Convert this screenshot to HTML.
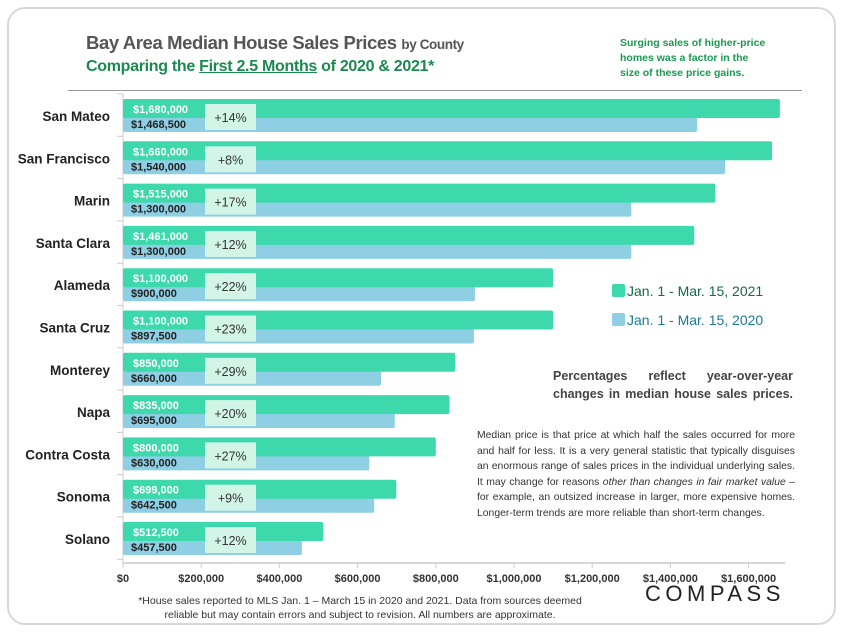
<!DOCTYPE html>
<html><head><meta charset="utf-8"><style>
body{margin:0;background:#fff;font-family:"Liberation Sans",sans-serif}
#card{position:absolute;left:7px;top:7px;width:829px;height:618px;border:2px solid #d8d8d8;border-radius:18px;box-sizing:border-box}
.t{position:absolute;white-space:nowrap}
</style></head><body>
<div id="card"></div>
<div class="t" style="left:86px;top:32px;font-size:18.5px;font-weight:bold;color:#555;letter-spacing:-0.4px">Bay Area Median House Sales Prices <span style="font-size:13.5px">by County</span></div>
<div class="t" style="left:86px;top:58px;font-size:16px;font-weight:bold;color:#1a8a4f;letter-spacing:-0.3px">Comparing the <u>First 2.5 Months</u> of 2020 &amp; 2021*</div>
<div class="t" style="left:620px;top:36px;font-size:10.5px;line-height:15px;font-weight:bold;color:#1a9a50">Surging sales of higher-price<br>homes was a factor in the<br>size of these price gains.</div>
<div style="position:absolute;left:68px;top:90px;width:734px;height:1px;background:#999"></div>
<svg id="chart" width="845" height="634" style="position:absolute;left:0;top:0"></svg>
<div class="t" style="left:612px;top:283px;font-size:14px;color:#16694a"><span style="display:inline-block;width:13px;height:13px;background:#3dd9ad;border-radius:2px;vertical-align:-1px;margin-right:2px"></span>Jan. 1 - Mar. 15, 2021</div>
<div class="t" style="left:612px;top:312px;font-size:14px;color:#1d7a95"><span style="display:inline-block;width:13px;height:13px;background:#8ecfe4;border-radius:2px;vertical-align:-1px;margin-right:2px"></span>Jan. 1 - Mar. 15, 2020</div>
<div class="t" style="left:553px;top:367px;width:240px;font-size:12.5px;line-height:18px;font-weight:bold;color:#444;white-space:normal;text-align:justify;text-align-last:justify">Percentages reflect year-over-year changes in median house sales prices.</div>
<div class="t" style="left:477px;top:428px;width:318px;font-size:10.4px;line-height:15.5px;color:#333;white-space:normal;text-align:justify">Median price is that price at which half the sales occurred for more and half for less. It is a very general statistic that typically disguises an enormous range of sales prices in the individual underlying sales. It may change for reasons <i>other than changes in fair market value</i> – for example, an outsized increase in larger, more expensive homes. Longer-term trends are more reliable than short-term changes.</div>
<div class="t" style="left:120px;top:594px;width:480px;font-size:10.5px;line-height:14px;color:#333;white-space:normal;text-align:center">*House sales reported to MLS Jan. 1 – March 15 in 2020 and 2021. Data from sources deemed reliable but may contain errors and subject to revision. All numbers are approximate.</div>
<div class="t" style="left:645px;top:581px;font-size:22px;letter-spacing:4.5px;color:#222">COMPASS</div>
<script>
const counties=["San Mateo","San Francisco","Marin","Santa Clara","Alameda","Santa Cruz","Monterey","Napa","Contra Costa","Sonoma","Solano"];
const v2021=[1680000,1660000,1515000,1461000,1100000,1100000,850000,835000,800000,699000,512500];
const v2020=[1468500,1540000,1300000,1300000,900000,897500,660000,695000,630000,642500,457500];
const pct=["+14%","+8%","+17%","+12%","+22%","+23%","+29%","+20%","+27%","+9%","+12%"];
const ticks=[0,200000,400000,600000,800000,1000000,1200000,1400000,1600000];
const svg=document.getElementById('chart');const NS='http://www.w3.org/2000/svg';
const x=v=>123+v*391/1000000;
const yRow=i=>99+i*42.3;
const fmt=v=>'$'+v.toLocaleString('en-US');
function mk(t,a,p){const e=document.createElementNS(NS,t);for(const k in a)e.setAttribute(k,a[k]);(p||svg).appendChild(e);return e;}
const ax=mk('line',{x1:123,y1:94,x2:123,y2:563,stroke:'#ccc','stroke-width':1});


const xa=mk('line',{x1:123,y1:563,x2:785,y2:563,stroke:'#ccc','stroke-width':1.5});


for(let i=0;i<=counties.length;i++){mk('line',{x1:117,y1:yRow(i)-5,x2:123,y2:yRow(i)-5,stroke:'#ccc'});}
ticks.forEach(t=>{mk('line',{x1:x(t),y1:563,x2:x(t),y2:568,stroke:'#ccc'});
const tl=mk('text',{x:x(t),y:582,'text-anchor':'middle','font-size':11,fill:'#333','font-weight':'bold'});tl.textContent='$'+t.toLocaleString('en-US');

});
counties.forEach((c,i)=>{const y=yRow(i);
const b2=mk('rect',{x:123,y:y+17,width:x(v2020[i])-123,height:16,fill:'#8ecfe4',rx:2});


const b1=mk('rect',{x:123,y:y,width:x(v2021[i])-123,height:19,fill:'#3dd9ad',rx:2});


const pb=mk('rect',{x:205,y:y+5,width:51,height:26,fill:'#d2f5e8'});


const pt=mk('text',{x:230.5,y:y+23,'text-anchor':'middle','font-size':12.5,fill:'#333'});pt.textContent=pct[i];


const l1=mk('text',{x:133,y:y+14,'font-size':11,fill:'#fff','font-weight':'bold'});l1.textContent=fmt(v2021[i]);


const l2=mk('text',{x:131,y:y+29,'font-size':11,fill:'#222','font-weight':'bold'});l2.textContent=fmt(v2020[i]);


const cl=mk('text',{x:110,y:y+22,'text-anchor':'end','font-size':13.5,fill:'#222','font-weight':'bold'});cl.textContent=c;

});
</script>
</body></html>
